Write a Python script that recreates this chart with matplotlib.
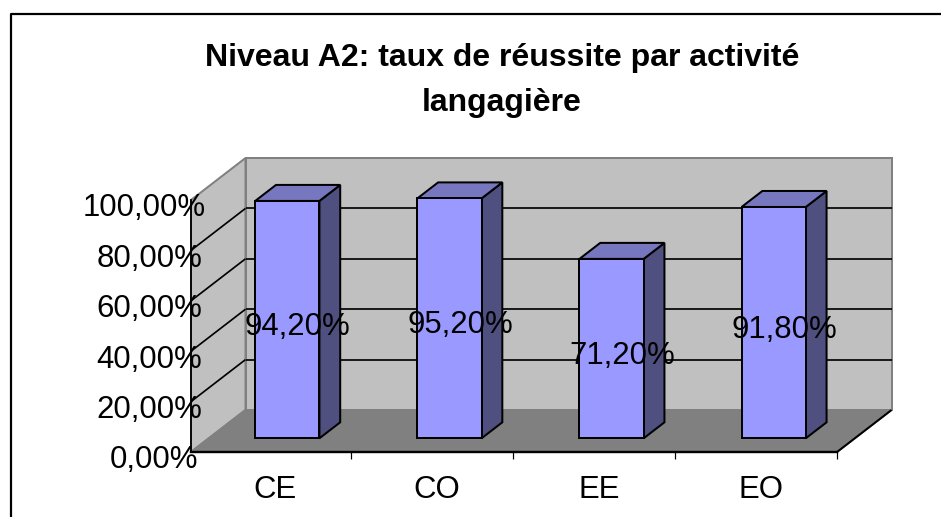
import matplotlib
matplotlib.use("Agg")
import matplotlib.pyplot as plt
from matplotlib.patches import Polygon
from matplotlib.lines import Line2D
from matplotlib.transforms import ScaledTranslation

categories = ["CE", "CO", "EE", "EO"]
values = [94.2, 95.2, 71.2, 91.8]
value_labels = ["94,20%", "95,20%", "71,20%", "91,80%"]
y_ticks = [0, 20, 40, 60, 80, 100]
y_tick_labels = ["0,00%", "20,00%", "40,00%", "60,00%", "80,00%", "100,00%"]
title_text = "Niveau A2: taux de réussite par activité\nlangagière"

W, H = 941, 517
px = 72 / 100  # points per pixel
plt.rcParams["font.family"] = ["Liberation Sans", "DejaVu Sans"]

fig = plt.figure(figsize=(W / 100, H / 100), dpi=100, facecolor="white")
L, R, B, T = 191.0, 837.0, 452.0, 200.0
X0 = 0.0154
ax = fig.add_axes([L / W, 1 - B / H, (R - L) / W, (B - T) / H])
ax.set_xlim(X0, 4)
ax.set_ylim(0, 100)
ax.patch.set_visible(False)

DX = 54.5 / ((R - L) / (4 - X0))   # full depth in x data units
DY = 42.0 / ((B - T) / 100)  # full depth in y data units


def P(x, y, d=0.0):
    return (x + DX * d, y + DY * d)


def poly(points, fc, ec="black", lw=2.0, z=2):
    ax.add_patch(Polygon(points, closed=True, facecolor=fc, edgecolor=ec,
                         linewidth=lw * px, joinstyle="miter", clip_on=False, zorder=z))


def line(a, b, color="black", lw=1.5, z=1.5):
    ax.add_line(Line2D([a[0], b[0]], [a[1], b[1]], color=color, linewidth=lw * px,
                       clip_on=False, zorder=z, solid_capstyle="butt"))


WALL, FLOOR, EDGE = "#C0C0C0", "#808080", "#808080"
# back wall, side wall, floor
poly([P(X0, 0, 1), P(4, 0, 1), P(4, 100, 1), P(X0, 100, 1)], WALL, EDGE, 2, 1)
poly([P(X0, 0), P(X0, 0, 1), P(X0, 100, 1), P(X0, 100)], WALL, EDGE, 2, 1)
poly([P(X0, 0), P(4, 0), P(4, 0, 1), P(X0, 0, 1)], FLOOR, EDGE, 2, 1.2)
line(P(4, 0), P(4, 0, 1), "black", 2)

for t in y_ticks[1:-1]:
    line(P(X0, t), P(X0, t, 1), "black", 1.7)
    line(P(X0, t, 1), P(4, t, 1), "black", 1.7)

# bars
BW, D0, D1 = 0.396, 0.326, 0.707
for i, v in enumerate(values):
    x0 = i + 0.5 - BW / 2
    x1 = x0 + BW
    poly([P(x1, 0, D0), P(x1, 0, D1), P(x1, v, D1), P(x1, v, D0)], "#4F4F80", z=3)
    poly([P(x0, v, D0), P(x1, v, D0), P(x1, v, D1), P(x0, v, D1)], "#7777BF", z=3)
    poly([P(x0, 0, D0), P(x1, 0, D0), P(x1, v, D0), P(x0, v, D0)], "#9999FF", z=3.1)
    cx, cy = P(i + 0.5, v / 2, D0)
    ax.annotate(value_labels[i], (cx, cy), xytext=(10.5 * px, -7 * px),
                textcoords="offset points", ha="center", va="center",
                fontsize=22.4, color="black", zorder=5, annotation_clip=False)

# axes
for s in ("top", "right"):
    ax.spines[s].set_visible(False)
ax.spines["left"].set_linewidth(1.8 * px)
ax.spines["bottom"].set_linewidth(2.4 * px)
ax.spines["left"].set_zorder(2)
ax.spines["bottom"].set_zorder(2)

ax.set_yticks(y_ticks)
ax.set_yticklabels(y_tick_labels, fontsize=22.4)
ax.tick_params(axis="y", length=0, pad=0)
shifts = {"100,00%": 15, "0,00%": 7}
for lab in ax.get_yticklabels():
    dx = shifts.get(lab.get_text(), 11)
    lab.set_transform(lab.get_transform() + ScaledTranslation(dx / 100, -5 / 100, fig.dpi_scale_trans))
    lab.set_zorder(6)

ax.set_xticks([1, 2, 3, 4])
ax.set_xticklabels([])
ax.tick_params(axis="x", which="major", length=6.5 * px, width=1.2 * px)
ax.set_xticks([0.5, 1.5, 2.5, 3.5], minor=True)
ax.set_xticklabels(categories, minor=True, fontsize=22.4)
ax.tick_params(axis="x", which="minor", length=0, pad=16.5)
for lab in ax.get_xticklabels(minor=True):
    lab.set_transform(lab.get_transform() + ScaledTranslation(5.5 / 100, 0, fig.dpi_scale_trans))

# title
fig.text(502 / W, 1 - 80.5 / H, title_text, ha="center", va="center", fontsize=23.05,
         fontweight="bold", linespacing=1.62)

# frame (left and top edges of chart area)
fig.add_artist(Line2D([11.3 / W, 11.3 / W, 1], [0, 1 - 14.3 / H, 1 - 14.3 / H],
                      color="black", linewidth=2.2 * px, transform=fig.transFigure))

fig.savefig("out.png", dpi=100)
